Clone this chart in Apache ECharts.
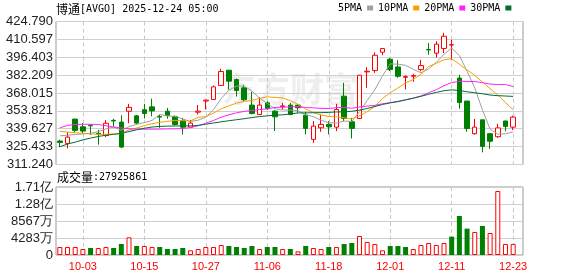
<!DOCTYPE html>
<html><head><meta charset="utf-8">
<script src="https://cdn.jsdelivr.net/npm/echarts@6/dist/echarts.min.js"></script>
<style>html,body{margin:0;padding:0;background:#fff}#c{width:578px;height:276px}</style>
</head><body><div id="c"></div>
<script>
const dates = ['09-30','10-01','10-02','10-03','10-06','10-07','10-08','10-09','10-10','10-13',
 '10-14','10-15','10-16','10-17','10-20','10-21','10-22','10-23','10-24','10-27',
 '10-28','10-29','10-30','10-31','11-03','11-04','11-05','11-06','11-07','11-10',
 '11-11','11-12','11-13','11-14','11-17','11-18','11-19','11-20','11-21','11-24',
 '11-25','11-26','11-28','12-01','12-02','12-03','12-04','12-05','12-08','12-09',
 '12-10','12-11','12-12','12-15','12-16','12-17','12-18','12-19','12-22','12-23'];
const openP = [329.9,328.0,347.3,341.2,342.5,336.0,334.2,346.3,344.9,353.5,
 349.9,354.7,357.0,349.3,353.6,349.4,345.9,340.9,352.8,361.7,
 362.9,374.0,386.1,378.7,372.1,358.4,350.9,360.2,353.6,357.2,
 358.4,358.4,350.4,331.2,340.4,343.1,340.9,365.5,345.2,347.8,
 384.8,385.8,400.4,394.8,388.7,380.5,381.3,386.6,402.6,399.6,
 403.4,406.1,379.9,361.6,335.7,346.7,335.7,333.3,345.8,340.9];
const closeP = [328.8,333.0,338.3,337.8,342.0,335.3,344.0,345.8,325.1,356.6,
 344.1,351.7,353.8,348.9,350.2,343.0,340.9,344.1,353.6,362.3,
 372.9,385.1,377.4,370.0,362.6,351.8,358.4,355.7,349.1,357.8,
 350.9,356.3,339.9,341.7,343.1,341.2,354.9,347.8,339.9,382.1,
 385.3,398.0,403.3,386.6,381.3,381.0,381.8,389.8,402.2,406.8,
 413.1,406.4,360.4,339.8,340.9,325.6,329.7,340.3,341.5,348.9];
const lowP = [325.1,324.0,336.4,335.7,334.6,327.0,333.0,341.0,324.2,344.0,
 343.3,347.8,349.5,340.4,347.5,342.2,335.1,340.4,350.9,354.9,
 362.5,373.8,370.8,365.2,361.5,351.0,350.4,354.4,337.8,354.9,
 350.4,352.3,335.1,328.5,337.2,335.1,337.8,345.7,331.9,347.3,
 372.1,384.0,398.0,385.3,380.0,370.8,376.9,385.3,398.4,396.2,
 399.7,394.3,355.6,337.3,334.9,320.9,323.7,332.4,337.7,338.7];
const highP = [330.9,336.9,347.5,344.1,343.0,338.8,346.5,347.5,350.3,359.4,
 350.5,359.4,363.5,350.9,356.2,350.2,348.3,346.7,358.4,362.9,
 374.0,387.2,386.3,379.5,374.7,368.9,364.7,361.5,354.4,360.2,
 360.2,358.8,353.1,345.7,350.9,345.7,359.4,376.1,348.3,382.4,
 388.5,400.4,403.5,395.9,394.0,382.1,383.2,394.3,407.6,409.1,
 415.8,410.2,382.5,361.8,347.4,346.8,335.8,343.6,346.0,350.0];
const ma5 = [334.0,334.5,335.0,335.5,336.0,337.3,339.5,341.0,338.4,341.3,
 343.1,344.6,346.2,351.0,349.7,349.5,347.4,345.4,346.4,348.8,
 354.8,363.6,370.3,373.5,373.6,369.4,364.0,359.7,355.5,354.6,
 354.4,354.0,350.8,349.3,346.4,344.4,344.2,345.7,345.4,353.2,
 362.0,370.6,381.7,391.1,390.9,390.0,386.8,384.1,387.2,392.3,
 398.8,403.7,397.8,385.3,372.1,354.6,339.3,335.3,335.6,337.2];
const ma10 = [337.5,337.0,336.5,336.0,335.5,335.2,335.2,335.5,335.8,338.7,
 340.2,342.1,343.6,344.7,345.5,346.3,346.0,345.8,348.7,349.3,
 352.1,355.5,357.8,360.0,361.2,362.1,363.8,365.0,364.5,364.1,
 361.9,359.0,355.3,352.4,350.5,349.4,349.1,348.3,347.4,349.8,
 353.2,357.4,363.7,368.2,372.0,376.0,378.7,382.9,389.1,391.6,
 394.4,395.2,390.9,386.3,382.2,376.7,371.5,366.5,360.4,354.7];
const ma20 = [340.3,342.3,343.0,343.2,343.2,343.0,342.0,341.0,340.2,339.6,
 339.4,339.3,339.3,339.4,339.5,339.6,339.8,340.5,342.0,344.0,
 346.2,348.8,350.7,352.3,353.4,354.2,354.9,355.4,356.6,356.7,
 357.0,357.2,356.5,356.2,355.8,355.7,356.4,356.6,355.9,356.9,
 357.6,358.2,359.5,360.3,361.3,362.7,363.9,365.6,368.2,370.7,
 373.8,376.3,377.3,377.2,377.1,376.3,375.1,374.7,374.8,373.1];
const ma30 = [325.3,327.5,329.0,330.8,332.2,333.5,334.5,335.2,336.0,337.4,
 338.8,340.0,341.0,341.5,341.7,341.8,341.8,341.9,342.3,343.2,
 344.2,345.1,346.0,346.8,347.6,348.5,349.3,349.9,350.4,350.7,
 351.4,352.2,352.2,352.4,352.4,352.6,353.0,353.0,353.5,354.4,
 355.7,357.3,358.9,360.2,361.2,362.5,363.9,365.4,367.0,368.5,
 369.8,370.5,370.0,369.0,368.2,367.4,366.4,365.9,365.6,365.3];
const volume = [20200000,20200000,20200000,15100000,17600000,17600000,20200000,17600000,27700000,44500000,
 22700000,22700000,20200000,20200000,15100000,15100000,17600000,11800000,15100000,20200000,
 20200000,25200000,22700000,20200000,17600000,22700000,15100000,20200000,20200000,15100000,
 15100000,9200000,22700000,17600000,15100000,20200000,20200000,27700000,30200000,47900000,
 32800000,27700000,11800000,22700000,22700000,20200000,15100000,25200000,30200000,25200000,
 30200000,46200000,98300000,66400000,58000000,73100000,55400000,161300000,27700000,27925861];
const volumeUp = [1,1,1,1,0,1,1,0,0,1, 0,1,1,0,0,0,0,1,1,1, 1,1,0,0,0,0,1,0,0,1,
 0,1,0,1,1,0,1,0,0,1, 1,1,1,0,0,0,1,1,1,1, 1,0,0,0,1,0,1,1,1,1];
const priceTicks = ['311.240','325.433','339.627','353.821','368.015','382.209','396.403','410.597','424.790'];
const volumeTicks = ['0','4283万','8567万','1.28亿','1.71亿'];
const maNames = ['5PMA','10PMA','20PMA','30PMA'];
const maColors = ['#a0a0a0','#f5a200','#ff22ff','#006e36'];
const lastVolume = 27925861;

const pMin = 311.24, pMax = 424.79, pInt = (pMax - pMin) / 8;
const vMax = 171340000, vInt = vMax / 4;
const labelEvery = (i) => i % 8 === 3;
const RED = '#ff0000', GREEN = '#008000';

const chart = echarts.init(document.getElementById('c'), null, {renderer: 'canvas'});
const gridBase = {outerBoundsMode: 'none', containLabel: false};
const hiddenVal = (gi) => ({type: 'value', gridIndex: gi, min: 0, max: 1, show: false});
const catAxis = (gi, showLabel) => ({
  type: 'category', gridIndex: gi, data: dates, boundaryGap: true,
  axisLine: {show: false}, axisTick: {show: false, alignWithLabel: true, interval: labelEvery},
  axisLabel: {show: showLabel, interval: labelEvery, color: RED, fontSize: 11,
    fontFamily: 'Liberation Sans', margin: 6},
  splitLine: {show: true, interval: labelEvery, alignWithLabel: true,
    lineStyle: {color: '#c8c8c8', type: [4, 3], width: 1}}
});
const option = {
  animation: false,
  backgroundColor: '#fff',
  title: [
    {text: '{a|博通}[AVGO] 2025-12-24 05:00', left: 56, top: 3, padding: 0,
     textStyle: {fontFamily: 'DejaVu Sans Mono', fontSize: 10, fontWeight: 'normal', color: '#000',
       rich: {a: {fontFamily: 'Noto Sans CJK SC', fontSize: 12, color: '#000'}}}},
    {text: '{a|成交量}:' + lastVolume, left: 57, top: 171, padding: 0,
     textStyle: {fontFamily: 'DejaVu Sans Mono', fontSize: 10, fontWeight: 'normal', color: '#000',
       rich: {a: {fontFamily: 'Noto Sans CJK SC', fontSize: 12, color: '#000'}}}}
  ],
  legend: {
    data: maNames, left: 338, top: 3, padding: 0, align: 'right', icon: 'rect',
    itemWidth: 6, itemHeight: 5, itemGap: 5, selectedMode: false,
    textStyle: {fontFamily: 'DejaVu Sans Mono', fontSize: 10, color: '#000'}
  },
  graphic: [{
    type: 'text', left: 222, top: 72, z: -10, silent: true,
    style: {text: '东方财富', fontSize: 34, fontWeight: 'bold', fontFamily: 'Noto Sans CJK SC',
      fill: 'rgba(120,120,130,0.13)'}
  }],
  grid: [
    Object.assign({left: 56, top: 21.5, width: 461, height: 143}, gridBase),
    Object.assign({left: 56, top: 187, width: 461, height: 68}, gridBase),
    Object.assign({left: 56, top: 21.5, width: 467, height: 143, show: true, borderColor: '#999', borderWidth: 1, z: 0}, gridBase),
    Object.assign({left: 56, top: 187, width: 467, height: 68, show: true, borderColor: '#999', borderWidth: 1, z: 0}, gridBase)
  ],
  xAxis: [catAxis(0, false), catAxis(1, true), hiddenVal(2), hiddenVal(3)],
  yAxis: [
    {type: 'value', gridIndex: 0, min: pMin, max: pMax, interval: pInt,
     axisLine: {show: false}, axisTick: {show: false}, splitLine: {show: false},
     axisLabel: {margin: 3, color: '#222', fontSize: 13, fontFamily: 'Liberation Sans',
       showMinLabel: true, showMaxLabel: true,
       formatter: (v) => priceTicks[Math.round((v - pMin) / pInt)]}},
    {type: 'value', gridIndex: 1, min: 0, max: vMax, interval: vInt,
     axisLine: {show: false}, axisTick: {show: false}, splitLine: {show: false},
     axisLabel: {margin: 3, color: '#222', fontSize: 13, fontFamily: 'Liberation Sans',
       showMinLabel: true, showMaxLabel: true,
       formatter: (v) => volumeTicks[Math.round(v / vInt)]}},
    {type: 'value', gridIndex: 2, min: pMin, max: pMax, interval: pInt,
     axisLine: {show: false}, axisTick: {show: false}, axisLabel: {show: false},
     splitLine: {show: true, lineStyle: {color: '#cfcfcf', width: 1}}},
    {type: 'value', gridIndex: 3, min: 0, max: vMax, interval: vInt,
     axisLine: {show: false}, axisTick: {show: false}, axisLabel: {show: false},
     splitLine: {show: true, lineStyle: {color: '#cfcfcf', width: 1}}}
  ],
  series: [
    {type: 'candlestick', name: 'K', xAxisIndex: 0, yAxisIndex: 0, barWidth: 5,
     data: dates.map((d, i) => [openP[i], closeP[i], lowP[i], highP[i]]),
     itemStyle: {color: '#ffffff', color0: GREEN, borderColor: RED, borderColor0: GREEN, borderWidth: 1}},
    ...[ma5, ma10, ma20, ma30].map((arr, k) => ({
      type: 'line', name: maNames[k], xAxisIndex: 0, yAxisIndex: 0, data: arr,
      symbol: 'none', showSymbol: false, smooth: false, z: 3,
      itemStyle: {color: maColors[k]}, lineStyle: {color: maColors[k], width: 1}
    })),
    {type: 'bar', name: 'VOL', xAxisIndex: 1, yAxisIndex: 1, barWidth: 5,
     data: volume.map((v, i) => ({value: v, itemStyle: volumeUp[i]
       ? {color: '#ffffff', borderColor: RED, borderWidth: 1}
       : {color: GREEN, borderColor: GREEN, borderWidth: 0}}))}
  ]
};
chart.setOption(option);
</script></body></html>
